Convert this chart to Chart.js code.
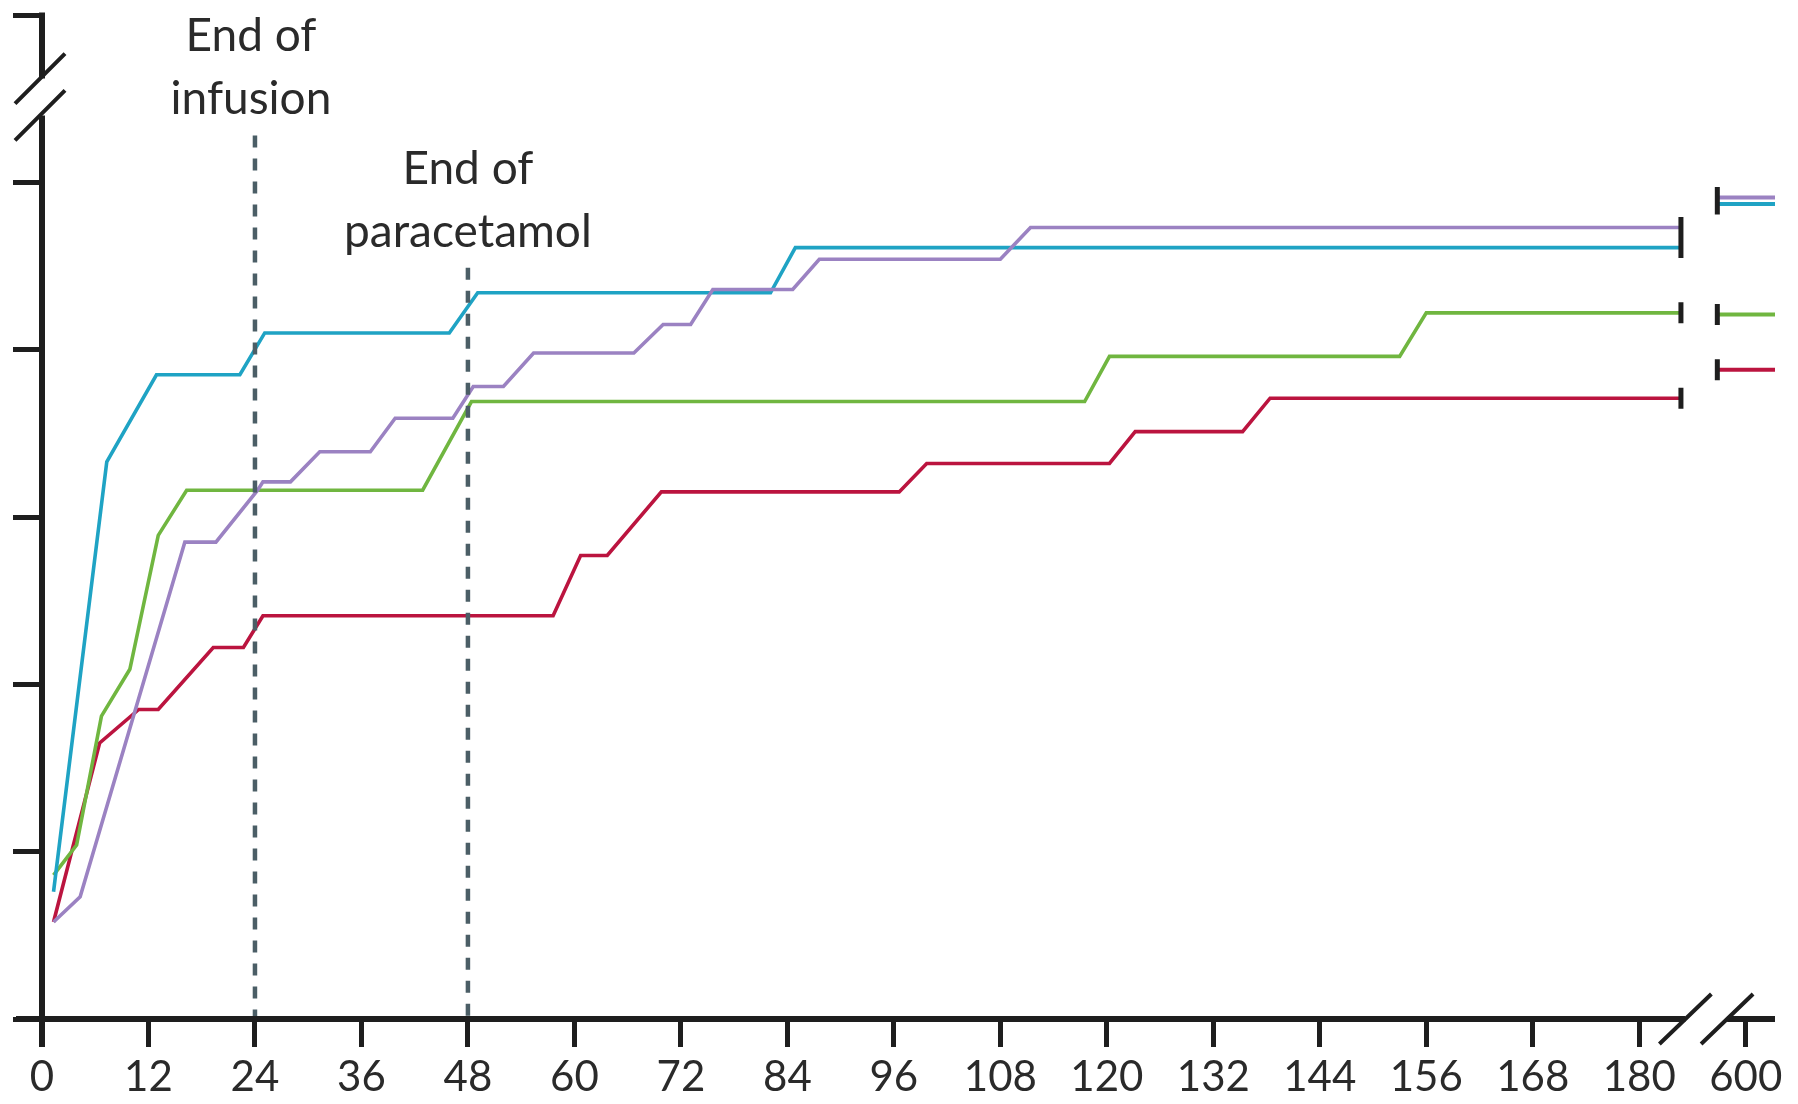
<!DOCTYPE html>
<html>
<head>
<meta charset="utf-8">
<script src="https://cdn.jsdelivr.net/npm/chart.js@4.4.0/dist/chart.umd.min.js"></script>
<style>
  html, body { margin: 0; padding: 0; background: #fff; }
  #wrap { width: 1798px; height: 1104px; }
</style>
</head>
<body>
<div id="wrap"><canvas id="recoveryChart"></canvas></div>
<script>
// hours (x) and cumulative values (y), one pair of arrays per group
const tealHours  = [1.3, 7.3, 12.9, 22.3, 25.1, 45.9, 49.1, 82.1, 84.9, 184.7];
const tealValues = [7.6, 33.3, 38.5, 38.5, 41.0, 41.0, 43.4, 43.4, 46.1, 46.1];

const purpleHours  = [1.3, 4.3, 16.1, 19.6, 24.3, 24.9, 28.0, 31.3, 37.0, 39.8, 46.3, 48.6, 52.0, 55.4, 66.7, 70.0, 73.1, 75.6, 84.6, 87.6, 108.0, 111.4, 184.7];
const purpleValues = [5.8, 7.3, 28.5, 28.5, 31.6, 32.1, 32.1, 33.9, 33.9, 35.9, 35.9, 37.8, 37.8, 39.8, 39.8, 41.5, 41.5, 43.6, 43.6, 45.4, 45.4, 47.3, 47.3];

const greenHours  = [1.3, 3.9, 6.7, 9.9, 13.1, 16.3, 42.9, 48.4, 117.5, 120.3, 153.0, 156.0, 184.7];
const greenValues = [8.6, 10.4, 18.1, 20.9, 28.9, 31.6, 31.6, 36.9, 36.9, 39.6, 39.6, 42.2, 42.2];

const redHours  = [1.3, 6.5, 10.9, 13.1, 19.3, 22.7, 24.9, 57.6, 60.7, 63.7, 69.8, 96.6, 99.7, 120.3, 123.2, 135.3, 138.4, 184.7];
const redValues = [5.8, 16.5, 18.5, 18.5, 22.2, 22.2, 24.1, 24.1, 27.7, 27.7, 31.5, 31.5, 33.2, 33.2, 35.1, 35.1, 37.1, 37.1];

// value of each group at 600 h (shown after the axis break)
const groupNames  = ['teal', 'purple', 'green', 'red'];
const valuesAt600 = [48.7, 49.1, 42.1, 38.8];

// x tick positions; 600 is drawn at position 192, after the break
const xTickValues = [0, 12, 24, 36, 48, 60, 72, 84, 96, 108, 120, 132, 144, 156, 168, 180, 192];
const xTickLabels = ['0', '12', '24', '36', '48', '60', '72', '84', '96', '108', '120', '132', '144', '156', '168', '180', '600'];

// vertical markers
const markerHours = [24, 48];
const markerTops  = [52.8, 44.9];
const markerText  = [['End of', 'infusion'], ['End of', 'paracetamol']];

const colors = { teal: '#1fa3c4', purple: '#9b82c2', green: '#70b640', red: '#bb143f' };
const axisColor = '#1e1e1e';
const stubRange = [188.8, 195.3];   // where the 600 h stubs sit on the x scale
const xBreak = [185.2, 189.9];
const yBreak = [54.0, 56.2];

function toPoints(xs, ys) {
    return xs.map((h, i) => ({ x: h, y: ys[i] }));
}

const series = {
    teal: toPoints(tealHours, tealValues),
    purple: toPoints(purpleHours, purpleValues),
    green: toPoints(greenHours, greenValues),
    red: toPoints(redHours, redValues)
};

const datasets = [];
// dashed markers first so they are drawn on top
markerHours.forEach((h, i) => {
    datasets.push({
        label: 'marker' + i,
        data: [{ x: h, y: markerTops[i] }, { x: h, y: 0 }],
        borderColor: '#4b5e66',
        borderWidth: 4.5,
        borderDash: [12, 11],
        pointRadius: 0,
        clip: false
    });
});
['purple', 'teal', 'green', 'red'].forEach(name => {
    datasets.push({
        label: name,
        data: series[name],
        borderColor: colors[name],
        borderWidth: 3.6,
        pointRadius: 0,
        tension: 0,
        clip: false
    });
    const v = valuesAt600[groupNames.indexOf(name)];
    datasets.push({
        label: name + ' 600h',
        data: [{ x: stubRange[0], y: v }, { x: stubRange[1], y: v }],
        borderColor: colors[name],
        borderWidth: 4,
        pointRadius: 0,
        clip: false
    });
});

const extrasPlugin = {
    id: 'extras',
    afterDraw(chart) {
        const { ctx, chartArea: a, scales: { x, y } } = chart;
        ctx.save();
        ctx.strokeStyle = axisColor;
        ctx.lineCap = 'butt';

        // axes with breaks
        ctx.lineWidth = 6;
        ctx.beginPath();
        ctx.moveTo(a.left, a.top - 2.5);
        ctx.lineTo(a.left, y.getPixelForValue(yBreak[1]));
        ctx.moveTo(a.left, y.getPixelForValue(yBreak[0]));
        ctx.lineTo(a.left, a.bottom + 28);
        ctx.moveTo(a.left - 26, a.bottom);
        ctx.lineTo(x.getPixelForValue(xBreak[0]), a.bottom);
        ctx.moveTo(x.getPixelForValue(xBreak[1]), a.bottom);
        ctx.lineTo(a.right, a.bottom);
        ctx.stroke();

        // break slashes
        ctx.lineWidth = 4;
        ctx.beginPath();
        yBreak.forEach(v => {
            const cy = y.getPixelForValue(v);
            ctx.moveTo(a.left - 27, cy + 25);
            ctx.lineTo(a.left + 23, cy - 25);
        });
        xBreak.forEach(h => {
            const cx = x.getPixelForValue(h);
            ctx.moveTo(cx - 26, a.bottom + 25);
            ctx.lineTo(cx + 26, a.bottom - 25);
        });
        ctx.stroke();

        // censoring bars at the end of each curve and at the start of the 600 h stubs
        ctx.lineWidth = 5;
        ctx.beginPath();
        groupNames.forEach((name, i) => {
            const pts = series[name];
            const last = pts[pts.length - 1];
            const ex = x.getPixelForValue(last.x), ey = y.getPixelForValue(last.y);
            ctx.moveTo(ex, ey - 10.5);
            ctx.lineTo(ex, ey + 10.5);
            const sx = x.getPixelForValue(stubRange[0]), sy = y.getPixelForValue(valuesAt600[i]);
            ctx.moveTo(sx, sy - 10.5);
            ctx.lineTo(sx, sy + 10.5);
        });
        ctx.stroke();

        // marker labels
        ctx.fillStyle = '#2a2a2a';
        ctx.font = '46px Lato';
        ctx.textAlign = 'center';
        ctx.textBaseline = 'alphabetic';
        markerHours.forEach((h, i) => {
            const cx = x.getPixelForValue(h) - (i === 0 ? 4 : 0);
            const top = y.getPixelForValue(markerTops[i]);
            ctx.fillText(markerText[i][0], cx, top - 84);
            ctx.fillText(markerText[i][1], cx, top - 21);
        });
        ctx.restore();
    }
};

Chart.defaults.font.family = 'Lato';

new Chart(document.getElementById('recoveryChart').getContext('2d'), {
    type: 'line',
    data: { datasets: datasets },
    options: {
        responsive: true,
        maintainAspectRatio: false,
        animation: false,
        events: [],
        layout: { padding: { top: 15, right: 23, left: 0, bottom: 0 } },
        plugins: { legend: { display: false }, tooltip: { enabled: false } },
        scales: {
            x: {
                type: 'linear',
                min: 0,
                max: 195.3,
                afterBuildTicks: scale => {
                    scale.ticks = xTickValues.map(v => ({ value: v }));
                },
                afterFit: scale => { scale.height = 85; },
                ticks: {
                    autoSkip: false,
                    maxRotation: 0,
                    padding: 5,
                    color: '#2a2a2a',
                    font: { size: 42 },
                    callback: value => xTickLabels[xTickValues.indexOf(value)]
                },
                grid: {
                    drawOnChartArea: false,
                    drawTicks: true,
                    tickLength: 28,
                    lineWidth: 5,
                    color: axisColor
                },
                border: { display: false }
            },
            y: {
                min: 0,
                max: 60,
                afterFit: scale => { scale.width = 42; },
                ticks: { stepSize: 10, display: false },
                grid: {
                    drawOnChartArea: false,
                    drawTicks: true,
                    tickLength: 29,
                    lineWidth: 5,
                    color: axisColor
                },
                border: { display: false }
            }
        }
    },
    plugins: [extrasPlugin]
});
</script>
</body>
</html>
